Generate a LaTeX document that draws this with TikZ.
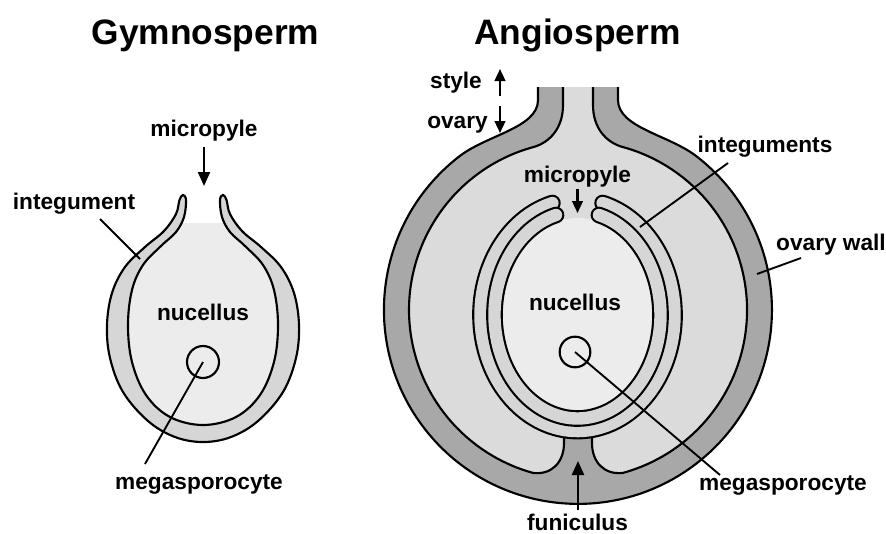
\documentclass[tikz,border=0pt]{standalone}
\usepackage{fontspec}
\setmainfont{Liberation Sans}
\usetikzlibrary{arrows.meta}
\definecolor{wallgray}{gray}{0.66}
\definecolor{cavgray}{gray}{0.86}
\definecolor{intgray}{gray}{0.84}
\definecolor{nucgray}{gray}{0.925}
\tikzset{
  lbl/.style={font=\fontsize{17}{20}\selectfont\bfseries, inner sep=0pt, anchor=base},
  ttl/.style={font=\fontsize{26.5}{30}\selectfont\bfseries, inner sep=0pt, anchor=base},
  outline/.style={line width=1.6pt},
  pointer/.style={line width=1.6pt, -{Triangle[width=9pt,length=10.5pt]}},
  smallpointer/.style={line width=1.7pt, -{Triangle[width=8pt,length=9pt]}},
  leader/.style={line width=1.4pt},
  cell/.style={circle, draw, line width=1.6pt, inner sep=0pt},
  bandline/.style={line width=12.5pt, line cap=round},
  bandfill/.style={intgray, line width=9.3pt, line cap=round},
}
\begin{document}
\begin{tikzpicture}[x=0.75pt,y=-0.75pt]
            \useasboundingbox (0,0) rectangle (886,533);
            \fill[white] (0,0) rectangle (886,533);
            % gymnosperm ovule
            \def\gymband{plot[smooth cycle, tension=0.6] coordinates {(183,195) (179.5,200) (176,214) (164,231) (145,247) (125,267) (112,293) (107,325) (110,358) (123,392) (148,421) (175,437) (203,442) (231,437) (258,421) (283,392) (296,358) (299,325) (294,293) (281,267) (261,247) (242,231) (230,214) (226.5,200) (223,195) (220,200) (222,217) (230,232) (245,246) (263,265) (274,290) (278,325) (274,362) (260,395) (236,417) (203,425) (170,417) (146,395) (132,362) (128,325) (132,290) (143,265) (161,246) (176,232) (184,217) (186,200)}}
            \begin{scope}
              \clip (0,223) rectangle (886,533);
              \fill[nucgray] plot[smooth cycle] coordinates {(203,200) (176,214) (164,231) (145,247) (125,267) (112,293) (107,325) (110,358) (123,392) (148,421) (175,437) (203,442) (231,437) (258,421) (283,392) (296,358) (299,325) (294,293) (281,267) (261,247) (242,231) (230,214)};
            \end{scope}
            \filldraw[fill=intgray, outline] \gymband;
            \node[cell, minimum size=24pt] (gcell) at (203,362) {};

            % angiosperm: ovary wall, locule, funiculus
            \def\ovaryout{(538,87) -- (538,100) .. controls (538,128) and (486,135) .. (458.5,157) arc[start angle=232, end angle=-52, radius=194] .. controls (670,135) and (618,128) .. (618,100) -- (618,87)}
            \def\ovaryin{(563,87) -- (563,105) .. controls (563,128) and (550,142) .. (534.3,146.8) arc[start angle=255, end angle=105.4, radius=169] .. controls (552,475) and (564,462) .. (564,443) -- (564,430) -- (592,430) -- (592,443) .. controls (592,462) and (604,475) .. (622.9,472.9) arc[start angle=74.6, end angle=-75, radius=169] .. controls (606,142) and (593,128) .. (593,105) -- (593,87)}
            \fill[wallgray] \ovaryout -- cycle;
            \fill[cavgray] \ovaryin -- cycle;
            \draw[outline] \ovaryout;
            \draw[outline] \ovaryin;
            % ovule with two integuments
            \def\intout{(552.4,203) arc[start angle=255, end angle=-75, x radius=97, y radius=116]}
            \def\intin{(556,215) arc[start angle=255, end angle=-75, x radius=83, y radius=103.5]}
            \fill[nucgray] (577.5,315) ellipse [x radius=76, y radius=97];
            \draw[bandline] \intout;
            \draw[bandfill] \intout;
            \draw[bandline] \intin;
            \draw[bandfill] \intin;
            \node[cell, minimum size=23pt] (acell) at (575,352) {};

            % titles
            \node[ttl] (gymno) at (205.5,44) {Gymnosperm};
            \node[ttl] (angio) at (577.5,44) {Angiosperm};

            % gymnosperm labels
            \node[lbl] (gmic) at (204,136) {micropyle};
            \coordinate (gmic-a) at (204,147);
            \coordinate (gmic-b) at (204,186);
            \draw[pointer] (gmic-a) -- (gmic-b);
            \node[lbl] (gint) at (74,209) {integument};
            \coordinate (gint-a) at (100,219);
            \coordinate (gint-b) at (140,259);
            \draw[leader] (gint-a) -- (gint-b);
            \node[lbl] (gnuc) at (203,320) {nucellus};
            \node[lbl] (gmeg) at (199,489) {megasporocyte};
            \coordinate (gmeg-a) at (145,464);
            \draw[leader] (gcell.center) -- (gmeg-a);

            % angiosperm labels
            \node[lbl] (sty) at (456,88) {style};
            \coordinate (sty-a) at (500,96);
            \coordinate (sty-b) at (500,69);
            \draw[smallpointer] (sty-a) -- (sty-b);
            \node[lbl] (ova) at (457.5,128) {ovary};
            \coordinate (ova-a) at (500,106);
            \coordinate (ova-b) at (500,133);
            \draw[smallpointer] (ova-a) -- (ova-b);
            \node[lbl] (amic) at (577.5,182) {micropyle};
            \coordinate (amic-a) at (577.5,189);
            \coordinate (amic-b) at (577.5,213);
            \draw[smallpointer] (amic-a) -- (amic-b);
            \node[lbl] (aint) at (765,152) {integuments};
            \coordinate (aint-a) at (728,163);
            \coordinate (aint-b) at (640,227);
            \draw[leader] (aint-a) -- (aint-b);
            \node[lbl] (wall) at (831,250) {ovary wall};
            \coordinate (wall-a) at (801,258);
            \coordinate (wall-b) at (757,274);
            \draw[leader] (wall-a) -- (wall-b);
            \node[lbl] (anuc) at (575,310) {nucellus};
            \node[lbl] (ameg) at (783,490) {megasporocyte};
            \coordinate (ameg-a) at (720,475);
            \draw[leader] (acell.center) -- (ameg-a);
            \node[lbl] (fun) at (577.5,530) {funiculus};
            \coordinate (fun-a) at (578,510);
            \coordinate (fun-b) at (578,461);
            \draw[pointer] (fun-a) -- (fun-b);
        \end{tikzpicture}
\end{document}
